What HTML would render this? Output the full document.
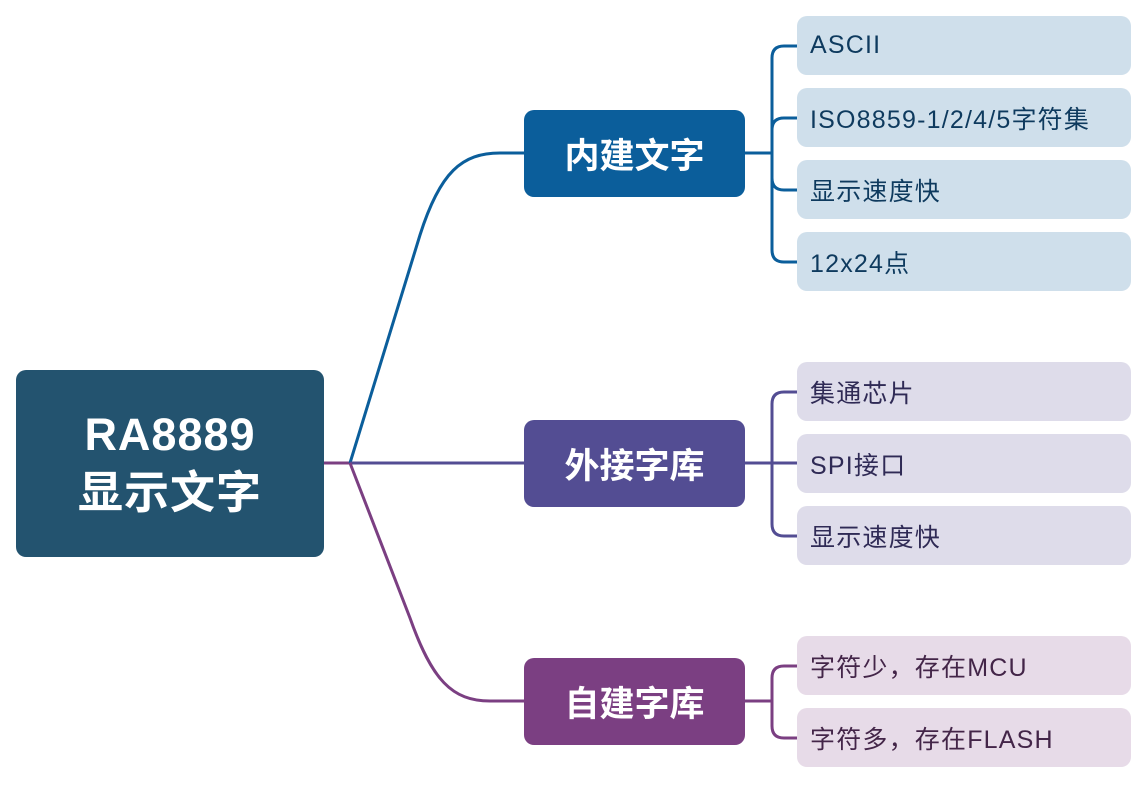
<!DOCTYPE html>
<html><head><meta charset="utf-8"><style>
body{margin:0;width:1148px;height:790px;background:#fff;position:relative;overflow:hidden;font-family:"Liberation Sans","Noto Sans CJK SC",sans-serif}
.b{position:absolute;display:flex;align-items:center;box-sizing:border-box}
.root{left:16px;top:370px;width:308px;height:187px;background:#23536f;border-radius:10px;color:#fff;font-weight:bold;font-size:45px;justify-content:center;text-align:center;line-height:58px;letter-spacing:1px}
.m{left:524px;width:221px;height:87px;border-radius:10px;color:#fff;font-weight:bold;font-size:35px;justify-content:center}
.l{left:797px;width:334px;height:59px;border-radius:10px;font-size:25px;padding-left:13px;white-space:nowrap;letter-spacing:1.2px}
.l1{background:#cfdfeb;color:#0e3a5e}.l2{background:#dedcea;color:#2f2a55}.l3{background:#e7dbe8;color:#432548}
</style></head><body>
<svg width="1148" height="790" style="position:absolute;left:0;top:0" fill="none" stroke-width="3">
<path d="M324 463 L352 463" stroke="#7b3f82"/>
<path d="M350 463 L420 235 C440 172 462 153 500 153 L524 153" stroke="#0b5e9b"/>
<path d="M350 463 L524 463" stroke="#534d93"/>
<path d="M350 463 L410 618 C432 680 452 701 490 701 L524 701" stroke="#7b3f82"/>
<g stroke="#0b5e9b"><path d="M745 153 L772 153"/><path d="M797 46 L784 46 Q772 46 772 58 L772 250 Q772 262 784 262 L797 262"/><path d="M797 118 L784 118 Q772 118 772 130"/><path d="M797 190 L784 190 Q772 190 772 178"/></g>
<g stroke="#534d93"><path d="M745 463 L772 463"/><path d="M797 392 L784 392 Q772 392 772 404 L772 524 Q772 536 784 536 L797 536"/><path d="M772 463 L797 463"/></g>
<g stroke="#7b3f82"><path d="M745 701 L772 701"/><path d="M797 666 L784 666 Q772 666 772 678 L772 726 Q772 738 784 738 L797 738"/></g>
</svg>
<div class="b root">RA8889<br>显示文字</div>
<div class="b m" style="top:110px;background:#0b5e9b">内建文字</div>
<div class="b m" style="top:420px;background:#534d93">外接字库</div>
<div class="b m" style="top:658px;background:#7b3f82">自建字库</div>
<div class="b l l1" style="top:16px">ASCII</div>
<div class="b l l1" style="top:88px">ISO8859-1/2/4/5字符集</div>
<div class="b l l1" style="top:160px">显示速度快</div>
<div class="b l l1" style="top:232px">12x24点</div>
<div class="b l l2" style="top:362px">集通芯片</div>
<div class="b l l2" style="top:434px">SPI接口</div>
<div class="b l l2" style="top:506px">显示速度快</div>
<div class="b l l3" style="top:636px">字符少，存在MCU</div>
<div class="b l l3" style="top:708px">字符多，存在FLASH</div>
</body></html>
